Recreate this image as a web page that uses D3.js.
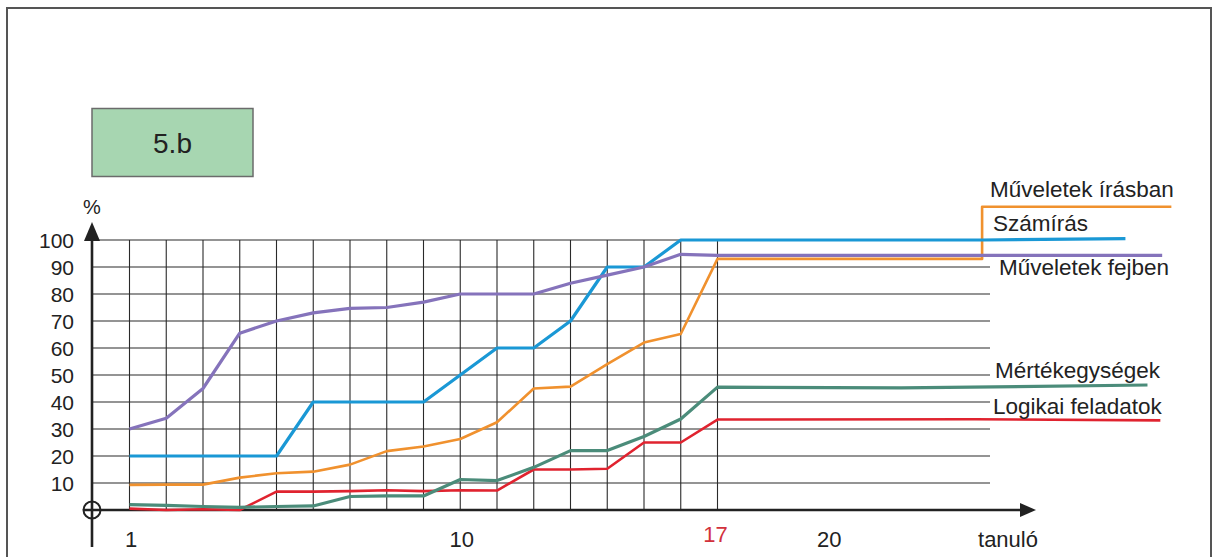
<!DOCTYPE html>
<html>
<head>
<meta charset="utf-8">
<script src="https://cdn.jsdelivr.net/npm/d3@7"></script>
<style>
  html, body { margin: 0; padding: 0; background: #fff; }
  svg { display: block; font-family: Arial, "Liberation Sans", sans-serif; }
</style>
</head>
<body>
<svg id="chart" width="1213" height="557"></svg>
<script>
// ---- data ----
const students = d3.range(1, 18); // 1..17
const szamiras = [20, 20, 20, 20, 20, 40, 40, 40, 40, 50, 60, 60, 70, 90, 90, 100, 100];
const fejben   = [30, 34, 45, 65.5, 70, 73, 74.7, 75, 77, 80, 80, 80, 84, 87, 90, 94.7, 94.3];
const irasban  = [9.3, 9.4, 9.4, 12, 13.6, 14.2, 16.8, 21.8, 23.5, 26.3, 32.5, 45, 45.7, 54, 62, 65.2, 93];
const mertek   = [2, 1.7, 1.3, 1, 1.3, 1.5, 5, 5.2, 5.2, 11.3, 10.9, 15.8, 22, 22, 27.2, 33.7, 45.5];
const logikai  = [0.5, 0, 0.3, 0, 6.8, 6.8, 7, 7.3, 7, 7.3, 7.2, 15, 15, 15.3, 25, 25, 33.5];

// leader-line tails toward the labels: [student position, percent]
const szamirasTail = [[24.2, 100], [28.1, 100.5]];
const fejbenTail   = [[29.1, 94.3]];
const irasbanTail  = [[24.2, 93], [24.2, 112.3], [29.35, 112.3]];
const mertekTail   = [[22, 45.2], [28.7, 46.3]];
const logikaiTail  = [[24, 33.6], [29.05, 33.2]];

const yTicks = [10, 20, 30, 40, 50, 60, 70, 80, 90, 100];
const xTickLabels = [1, 10, 17, 20];
const xAxisTitle = "tanuló";
const yAxisTitle = "%";
const classLabel = "5.b";

const seriesNames = ["Műveletek írásban", "Számírás", "Műveletek fejben", "Mértékegységek", "Logikai feladatok"];

// ---- layout ----
const svg = d3.select("#chart");
const x = d3.scaleLinear().domain([1, 17]).range([129.5, 717.5]);
const y = d3.scaleLinear().domain([0, 100]).range([510, 240]);
const x0 = 92;          // y-axis position
const gridRight = 990;  // right end of horizontal grid lines

// frame
svg.append("rect").attr("x", 7).attr("y", 8).attr("width", 1204).attr("height", 600)
  .attr("fill", "none").attr("stroke", "#555").attr("stroke-width", 2);

// class box
svg.append("rect").attr("x", 92).attr("y", 108.5).attr("width", 161).attr("height", 68)
  .attr("fill", "#a7d6b1").attr("stroke", "#6b6b6b").attr("stroke-width", 1.5);
svg.append("text").attr("x", 172.5).attr("y", 153).attr("text-anchor", "middle")
  .attr("font-size", 28).attr("fill", "#222").text(classLabel);

// grid
const grid = svg.append("g").attr("stroke", "#2a2a2a").attr("stroke-width", 1.1);
yTicks.forEach(v => {
  grid.append("line").attr("x1", x0).attr("x2", v === 100 ? x(17) : gridRight)
    .attr("y1", y(v)).attr("y2", y(v));
});
students.forEach(s => {
  grid.append("line").attr("x1", x(s)).attr("x2", x(s)).attr("y1", y(100)).attr("y2", y(0));
});

// axes
const axisCol = "#222";
svg.append("line").attr("x1", 84).attr("x2", 1022).attr("y1", y(0)).attr("y2", y(0))
  .attr("stroke", axisCol).attr("stroke-width", 2.6);
svg.append("path").attr("d", `M1036,${y(0)} L1020,${y(0) - 7} L1020,${y(0) + 7} Z`).attr("fill", axisCol);
svg.append("line").attr("x1", x0).attr("x2", x0).attr("y1", 547).attr("y2", 236)
  .attr("stroke", axisCol).attr("stroke-width", 2.6);
svg.append("path").attr("d", `M${x0},222 L${x0 - 8},241 L${x0 + 8},241 Z`).attr("fill", axisCol);
svg.append("circle").attr("cx", x0).attr("cy", y(0)).attr("r", 8.5)
  .attr("fill", "none").attr("stroke", axisCol).attr("stroke-width", 2);

// y tick labels
svg.append("g").selectAll("text").data(yTicks).join("text")
  .attr("x", 74).attr("y", d => y(d) + 8).attr("text-anchor", "end")
  .attr("font-size", 21).attr("fill", "#222").text(d => d);
svg.append("text").attr("x", 92).attr("y", 214).attr("text-anchor", "middle")
  .attr("font-size", 20).attr("fill", "#222").text(yAxisTitle);

// x tick labels
svg.append("g").selectAll("text").data(xTickLabels).join("text")
  .attr("x", d => x(d) + (d === 17 ? -2 : 1.5)).attr("y", d => d === 17 ? 542 : 546.5)
  .attr("text-anchor", "middle")
  .attr("font-size", 22).attr("fill", d => d === 17 ? "#d2313c" : "#222").text(d => d);
svg.append("text").attr("x", x(25) - 3.5).attr("y", 546.5).attr("text-anchor", "middle")
  .attr("font-size", 22).attr("fill", "#222").text(xAxisTitle);

// lines
const line = d3.line().x(d => x(d[0])).y(d => y(d[1]));
function pts(vals, tail) { return vals.map((v, i) => [students[i], v]).concat(tail); }

const series = [
  { vals: logikai,  tail: logikaiTail,  color: "#e0232f", w: 2.6 },
  { vals: mertek,   tail: mertekTail,   color: "#4b8c7a", w: 3.2 },
  { vals: irasban,  tail: irasbanTail,  color: "#f0912e", w: 2.6 },
  { vals: szamiras, tail: szamirasTail, color: "#1a98d5", w: 3.2 },
  { vals: fejben,   tail: fejbenTail,   color: "#8573bb", w: 3.2 }
];
svg.append("g").selectAll("path").data(series).join("path")
  .attr("d", d => line(pts(d.vals, d.tail)))
  .attr("fill", "none").attr("stroke", d => d.color).attr("stroke-width", d => d.w)
  .attr("stroke-linejoin", "round");

// series labels
const labelPos = [[990, 197], [993, 231], [999, 275], [995, 378], [993, 414]];
svg.append("g").selectAll("text").data(seriesNames).join("text")
  .attr("x", (d, i) => labelPos[i][0]).attr("y", (d, i) => labelPos[i][1])
  .attr("font-size", 22.5).attr("fill", "#222").text(d => d);
</script>
</body>
</html>
